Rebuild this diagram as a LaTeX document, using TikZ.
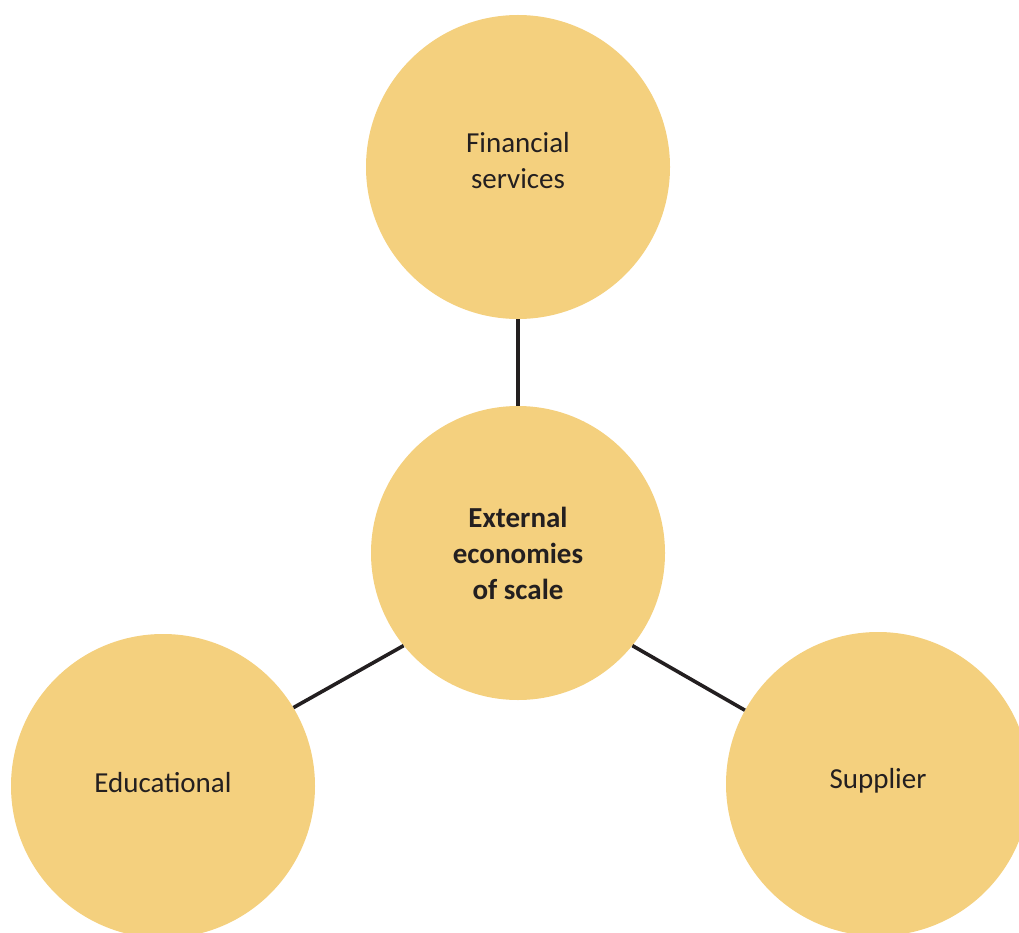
\documentclass[tikz,border=0pt]{standalone}
\usepackage{fontspec}
\setmainfont{Carlito}
\usepackage{tikz}

\definecolor{sand}{RGB}{244,208,126}
\definecolor{ink}{RGB}{35,31,32}

\begin{document}
\begin{tikzpicture}[x=1pt,y=-1pt,
    cnode/.style={circle,fill=sand,inner sep=0pt,minimum size=304pt,align=center,
        text=ink,font=\fontsize{29}{36}\selectfont},
    link/.style={draw=ink,line width=3.6pt}]
    \useasboundingbox (0,0) rectangle (1019,933);
    \node[cnode,text depth=14pt] (fin) at (518,167) {Financial\\services};
    \node[cnode,minimum size=294pt,font=\fontsize{29}{36}\selectfont\bfseries] (ext) at (518,553) {External\\economies\\of scale};
    \node[cnode,text depth=8pt] (edu) at (163,786) {Educational};
    \node[cnode,text depth=12pt] (sup) at (878,784) {Supplier};

    \draw[link] (ext.north) -- (fin.south) ;
    \draw[link] (ext.219) -- (edu.31) ;
    \draw[link] (ext.321) -- (sup.151) ;
\end{tikzpicture}
\end{document}
